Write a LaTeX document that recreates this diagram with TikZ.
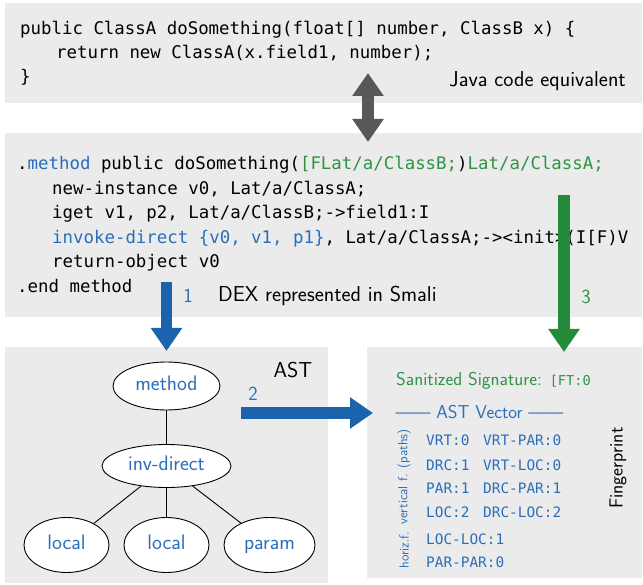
\documentclass[tikz,border=0pt]{standalone}
\usepackage{fontspec}
\setmonofont{DejaVu Sans Mono}
\usetikzlibrary{arrows.meta,shapes.geometric}
\definecolor{boxgray}{RGB}{235,235,235}
\definecolor{arrblue}{RGB}{28,99,174}
\definecolor{txtblue}{RGB}{42,110,187}
\definecolor{arrgreen}{RGB}{35,139,58}
\definecolor{txtgreen}{RGB}{46,148,68}
\definecolor{dgray}{RGB}{88,88,88}
\tikzset{
  panel/.style={fill=boxgray, draw=none},
  code/.style={anchor=base west, inner sep=0pt, font=\fontsize{17.4}{20}\selectfont\ttfamily},
  lbl/.style={inner sep=0pt, anchor=base, font=\fontsize{21.6}{25}\selectfont\sffamily},
  numlbl/.style={inner sep=0pt, anchor=base, font=\fontsize{20}{24}\selectfont\sffamily},
  treenode/.style={ellipse, draw=black, line width=0.9pt, fill=white, inner sep=0pt,
    text height=0.88em, text depth=0em,
    font=\fontsize{21}{24}\selectfont\sffamily, text=txtblue},
  treeedge/.style={draw=black, line width=0.9pt},
  blockarrow/.style={line width=11.5pt, -{Triangle[width=30pt,length=23pt]}},
  dblarrow/.style={line width=11.5pt, {Triangle[width=30pt,length=23pt]}-{Triangle[width=30pt,length=23pt]}},
  vec/.style={anchor=base west, inner sep=0pt, text=txtblue, font=\fontsize{14.4}{16}\selectfont\ttfamily},
  sidelbl/.style={inner sep=0pt, rotate=90, text=txtblue, font=\fontsize{13.2}{15}\selectfont\sffamily}
}
\begin{document}
\begin{tikzpicture}[x=1pt,y=-1pt]
\useasboundingbox (0,0) rectangle (643,585);
% panels
\fill[panel] (5,3) rectangle (642,103);
\fill[panel] (5,133) rectangle (642,317);
\fill[panel] (5,347) rectangle (328,583);
\fill[panel] (367,347) rectangle (642,578);

% Java code
\node[code] (j1) at (20,35) {public ClassA doSomething(float[] number, ClassB x) \{};
\node[code] (j2) at (56,59) {return new ClassA(x.field1, number);};
\node[code] (j3) at (20,83) {\}};
\node[lbl, anchor=base east] (jl) at (626,87) {Java code equivalent};

% Smali code
\node[code] (s1) at (17,170) {.\textcolor{txtblue}{method} public doSomething(\textcolor{txtgreen}{[FLat/a/ClassB;})\textcolor{txtgreen}{Lat/a/ClassA;}};
\node[code] (s2) at (52,194.5) {new-instance v0, Lat/a/ClassA;};
\node[code] (s3) at (52,219) {iget v1, p2, Lat/a/ClassB;->field1:I};
\node[code] (s4) at (52,243.5) {\textcolor{txtblue}{invoke-direct \{v0, v1, p1\}}, Lat/a/ClassA;->{<}init{>}(I[F)V};
\node[code] (s5) at (52,268) {return-object v0};
\node[code] (s6) at (17,292.5) {.end method};
\node[lbl, anchor=base west] (dl) at (218,302) {DEX represented in Smali};

% double arrow
\coordinate (da1) at (368,73);
\coordinate (da2) at (368,142);
\draw[dblarrow, draw=dgray, fill=dgray] (da1) -- (da2);

% arrow 1
\coordinate (a1s) at (166.5,282);
\coordinate (a1e) at (166.5,351);
\draw[blockarrow, draw=arrblue, fill=arrblue] (a1s) -- (a1e);
\node[numlbl, text=txtblue] (n1) at (188,303) {1};

% arrow 3
\coordinate (a3s) at (564,195);
\coordinate (a3e) at (564,352);
\draw[blockarrow, draw=arrgreen, fill=arrgreen] (a3s) -- (a3e);
\node[numlbl, text=txtgreen] (n3) at (586,304) {3};

% AST
\node[lbl] (astl) at (293,378) {AST};
\node[treenode, minimum width=107pt, minimum height=48pt] (tm) at (166.5,386) {method};
\node[treenode, minimum width=129pt, minimum height=43pt] (ti) at (166.5,466) {inv-direct};
\node[treenode, minimum width=85pt, minimum height=55pt] (tl1) at (66.5,545) {local};
\node[treenode, minimum width=85pt, minimum height=55pt] (tl2) at (166.5,545) {local};
\node[treenode, minimum width=91pt, minimum height=55pt] (tp) at (269.5,545) {param};
\draw[treeedge] (tm) -- (ti);
\draw[treeedge] (ti) -- (tl1);
\draw[treeedge] (ti) -- (tl2);
\draw[treeedge] (ti) -- (tp);

% arrow 2
\coordinate (a2s) at (241,413);
\coordinate (a2e) at (373,413);
\draw[blockarrow, draw=arrblue, fill=arrblue] (a2s) -- (a2e);
\node[numlbl, text=txtblue] (n2) at (253,401) {2};

% Fingerprint
\node[inner sep=0pt, anchor=base west, text=txtgreen] (sig) at (396,385)
  {{\fontsize{18.6}{21}\selectfont\sffamily Sanitized Signature: }{\fontsize{13.6}{16}\selectfont\ttfamily [FT:0}};
\node[inner sep=0pt, anchor=base, text=txtblue, font=\fontsize{18.6}{21}\selectfont\sffamily] (av) at (479.5,418)
  {\textemdash\textemdash\ AST Vector \textemdash\textemdash};
\node[vec] (v1a) at (426,446) {VRT:0};
\node[vec] (v1b) at (483,446) {VRT-PAR:0};
\node[vec] (v2a) at (426,470) {DRC:1};
\node[vec] (v2b) at (483,470) {VRT-LOC:0};
\node[vec] (v3a) at (426,493) {PAR:1};
\node[vec] (v3b) at (483,493) {DRC-PAR:1};
\node[vec] (v4a) at (426,517) {LOC:2};
\node[vec] (v4b) at (483,517) {DRC-LOC:2};
\node[vec] (v5a) at (426,544) {LOC-LOC:1};
\node[vec] (v6a) at (426,567) {PAR-PAR:0};
\node[sidelbl] (vf) at (404,477) {vertical f. (paths)};
\node[sidelbl] (hf) at (404,550) {horiz.f.};
\node[inner sep=0pt, rotate=90, font=\fontsize{19}{22}\selectfont\sffamily] (fp) at (618,468) {Fingerprint};
\end{tikzpicture}
\end{document}
